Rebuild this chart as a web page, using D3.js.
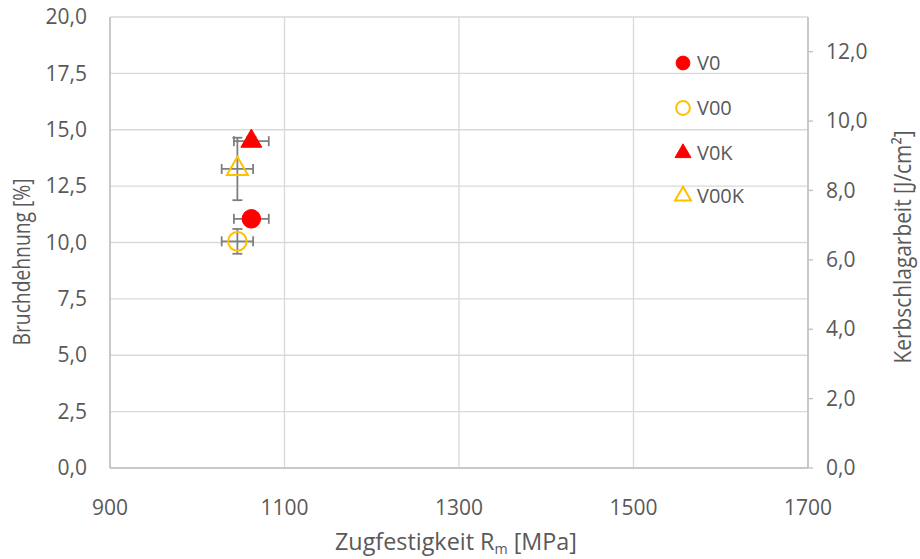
<!DOCTYPE html>
<html>
<head>
<meta charset="utf-8">
<script src="https://cdn.jsdelivr.net/npm/d3@7"></script>
<style>
  body { margin: 0; background: #fff; }
  text { font-family: "Open Sans", Lato, sans-serif; fill: #595959; }
</style>
</head>
<body>
<svg width="920" height="559"></svg>
<script>
// data
var names = ["V0", "V00", "V0K", "V00K"];
var rm = [1062, 1046, 1062, 1046];
var rmErr = [20, 18, 20, 18];
var vals = [11.05, 10.05, 9.42, 8.62];
var valErr = [0.3, 0.55, 0.12, 0.9];
var side = ["left", "left", "right", "right"];
var shapes = ["circle", "circle", "triangle", "triangle"];
var filled = [true, false, true, false];
var colors = ["#ff0000", "#ffc000", "#ff0000", "#ffc000"];

var xTicks = [900, 1100, 1300, 1500, 1700];
var yLeftTicks = [0, 2.5, 5, 7.5, 10, 12.5, 15, 17.5, 20];
var yRightTicks = [0, 2, 4, 6, 8, 10, 12];

var svg = d3.select("svg");
var pLeft = 110, pRight = 808, pTop = 17, pBottom = 468;

var x = d3.scaleLinear().domain([900, 1700]).range([pLeft, pRight]);
var yL = d3.scaleLinear().domain([0, 20]).range([pBottom, pTop]);
var yR = d3.scaleLinear().domain([0, 13]).range([pBottom, pTop]);

var fmt = function(d) { return d3.format(".1f")(d).replace(".", ","); };

var g = svg.append("g");

// grid
g.selectAll(".hgrid").data(yLeftTicks).enter().append("line")
  .attr("x1", pLeft).attr("x2", pRight)
  .attr("y1", function(d) { return yL(d); }).attr("y2", function(d) { return yL(d); })
  .attr("stroke", "#d9d9d9").attr("stroke-width", 1.3);
g.selectAll(".vgrid").data(xTicks).enter().append("line")
  .attr("y1", pTop).attr("y2", pBottom)
  .attr("x1", function(d) { return x(d); }).attr("x2", function(d) { return x(d); })
  .attr("stroke", "#d9d9d9").attr("stroke-width", 1.3);

// axis lines
g.append("line").attr("x1", pLeft).attr("x2", pLeft).attr("y1", pTop).attr("y2", pBottom)
  .attr("stroke", "#bfbfbf").attr("stroke-width", 1.5);
g.append("line").attr("x1", pLeft).attr("x2", pRight).attr("y1", pBottom).attr("y2", pBottom)
  .attr("stroke", "#bfbfbf").attr("stroke-width", 1.5);
g.append("line").attr("x1", pRight).attr("x2", pRight).attr("y1", pTop).attr("y2", pBottom)
  .attr("stroke", "#bfbfbf").attr("stroke-width", 1.5);

// right axis ticks
g.selectAll(".rtick").data(yRightTicks).enter().append("line")
  .attr("x1", pRight).attr("x2", pRight + 5)
  .attr("y1", function(d) { return yR(d); }).attr("y2", function(d) { return yR(d); })
  .attr("stroke", "#bfbfbf").attr("stroke-width", 1.3);

// tick labels
g.selectAll(".ltxt").data(yLeftTicks).enter().append("text")
  .attr("x", 87).attr("y", function(d) { return yL(d); })
  .attr("dy", "0.34em").attr("text-anchor", "end")
  .style("font-size", "21px").text(fmt);
g.selectAll(".rtxt").data(yRightTicks).enter().append("text")
  .attr("x", 826).attr("y", function(d) { return yR(d); })
  .attr("dy", "0.34em").attr("text-anchor", "start")
  .style("font-size", "21px").text(fmt);
g.selectAll(".xtxt").data(xTicks).enter().append("text")
  .attr("x", function(d) { return x(d); }).attr("y", 507)
  .attr("dy", "0.36em").attr("text-anchor", "middle")
  .style("font-size", "21px").text(function(d) { return d; });

// axis titles
var xt = svg.append("text").attr("x", 456).attr("y", 550).attr("text-anchor", "middle")
  .style("font-size", "23px").attr("textLength", 242).attr("lengthAdjust", "spacingAndGlyphs");
xt.append("tspan").text("Zugfestigkeit R");
xt.append("tspan").attr("dy", 4).style("font-size", "14px").text("m");
xt.append("tspan").attr("dy", -4).text(" [MPa]");

svg.append("text").attr("transform", "translate(30,262) rotate(-90)")
  .attr("text-anchor", "middle").style("font-size", "23px")
  .attr("textLength", 167).attr("lengthAdjust", "spacingAndGlyphs")
  .text("Bruchdehnung [%]");
svg.append("text").attr("transform", "translate(911,247) rotate(-90)")
  .attr("text-anchor", "middle").style("font-size", "23px")
  .attr("textLength", 233).attr("lengthAdjust", "spacingAndGlyphs")
  .text("Kerbschlagarbeit [J/cm²]");

// points
var data = names.map(function(n, i) {
  return { name: n, rm: rm[i], rmErr: rmErr[i], v: vals[i], vErr: valErr[i],
           y: side[i] == "left" ? yL : yR, shape: shapes[i], filled: filled[i], color: colors[i] };
});

var errColor = "#7f7f7f", cap = 5;
data.forEach(function(d) {
  var cx = x(d.rm), cy = d.y(d.v);
  var x0 = x(d.rm - d.rmErr), x1 = x(d.rm + d.rmErr);
  var y0 = d.y(d.v - d.vErr), y1 = d.y(d.v + d.vErr);
  var e = g.append("g").attr("stroke", errColor).attr("stroke-width", 1.8);
  e.append("line").attr("x1", x0).attr("x2", x1).attr("y1", cy).attr("y2", cy);
  e.append("line").attr("x1", x0).attr("x2", x0).attr("y1", cy - cap).attr("y2", cy + cap);
  e.append("line").attr("x1", x1).attr("x2", x1).attr("y1", cy - cap).attr("y2", cy + cap);
  e.append("line").attr("x1", cx).attr("x2", cx).attr("y1", y0).attr("y2", y1);
  e.append("line").attr("x1", cx - cap).attr("x2", cx + cap).attr("y1", y0).attr("y2", y0);
  e.append("line").attr("x1", cx - cap).attr("x2", cx + cap).attr("y1", y1).attr("y2", y1);
});

function marker(sel, d, size) {
  var sym = d.shape == "circle" ? d3.symbolCircle : d3.symbolTriangle;
  var p = sel.append("path").attr("d", d3.symbol().type(sym).size(size)());
  if (d.filled) p.attr("fill", d.color).attr("stroke", d.color).attr("stroke-width", 1);
  else p.attr("fill", "none").attr("stroke", d.color).attr("stroke-width", 2);
  return p;
}

data.forEach(function(d) {
  var m = g.append("g").attr("transform", "translate(" + x(d.rm) + "," + d.y(d.v) + ")");
  marker(m, d, d.shape == "circle" ? 270 : 190);
});

// legend
var legY = [63, 108, 153, 196];
data.forEach(function(d, i) {
  var lg = svg.append("g").attr("transform", "translate(683," + legY[i] + ")");
  marker(lg, d, d.shape == "circle" ? 150 : 110);
  lg.append("text").attr("x", 14).attr("dy", "0.36em").style("font-size", "20px").text(d.name);
});
</script>
</body>
</html>
